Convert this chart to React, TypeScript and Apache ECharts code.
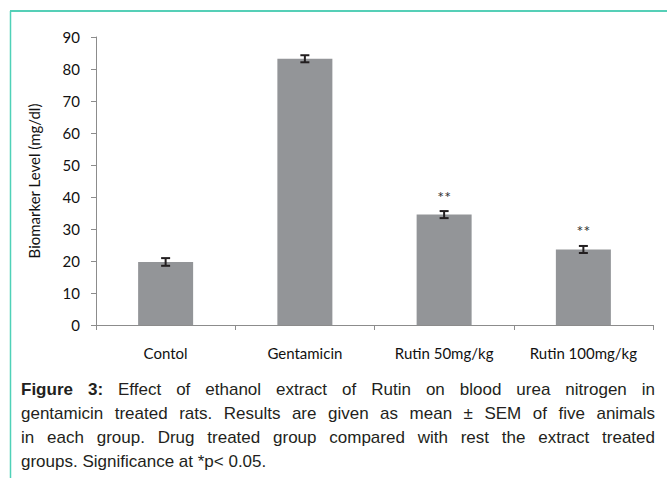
import React, { useEffect, useRef } from "react";
import * as echarts from "echarts";

const categories = ["Contol", "Gentamicin", "Rutin 50mg/kg", "Rutin 100mg/kg"];
const means = [19.7, 83.2, 34.5, 23.6];
const sems = [1.2, 1.1, 1.1, 1.1];
const significance = ["", "", "**", "**"];
const yMin = 0;
const yMax = 90;
const yStep = 10;
const yTitle = "Biomarker Level (mg/dl)";
const captionBoldWords = 2;
const captionLines = [
  "Figure 3: Effect of ethanol extract of Rutin on blood urea nitrogen in",
  "gentamicin treated rats. Results are given as mean ± SEM of five animals",
  "in each group. Drug treated group compared with rest the extract treated",
  "groups. Significance at *p< 0.05.",
];

const W = 667;
const H = 478;
const CAP_FONT = "Liberation Sans";
const CAP_SIZE = 17;
const CAP_LEFT = 21;
const CAP_RIGHT = 655;
const CAP_TOP = 389;
const CAP_LH = 24;

function buildCaption(): any[] {
  const canvas = document.createElement("canvas");
  const ctx = canvas.getContext("2d") as CanvasRenderingContext2D;
  const els: any[] = [];
  captionLines.forEach((line, li) => {
    const words = line.split(" ");
    const bolds = words.map((_, wi) => li === 0 && wi < captionBoldWords);
    const widths = words.map((w, wi) => {
      ctx.font = `${bolds[wi] ? "bold " : ""}${CAP_SIZE}px "${CAP_FONT}"`;
      return ctx.measureText(w).width;
    });
    ctx.font = `${CAP_SIZE}px "${CAP_FONT}"`;
    const spaceW = ctx.measureText(" ").width;
    const total = widths.reduce((a, b) => a + b, 0);
    const justify = li < captionLines.length - 1;
    const gap = justify && words.length > 1 ? (CAP_RIGHT - CAP_LEFT - total) / (words.length - 1) : spaceW;
    let x = CAP_LEFT;
    words.forEach((w, wi) => {
      els.push({
        type: "text",
        x,
        y: CAP_TOP + li * CAP_LH,
        silent: true,
        style: {
          text: w,
          fontFamily: CAP_FONT,
          fontSize: CAP_SIZE,
          fontWeight: bolds[wi] ? "bold" : "normal",
          fill: "#231f20",
          align: "left",
          verticalAlign: "middle",
        },
      });
      x += widths[wi] + gap;
    });
  });
  return els;
}

export default function App() {
  const ref = useRef<HTMLDivElement>(null);
  useEffect(() => {
    if (!ref.current) return;
    const chart = echarts.init(ref.current, undefined, { renderer: "svg" });
    const errData = means.map((m, i) => [i, m, sems[i]]);
    chart.setOption({
      animation: false,
      backgroundColor: "#ffffff",
      grid: { left: 96, right: 14, top: 37, bottom: 153, containLabel: false },
      xAxis: {
        type: "category",
        data: categories,
        boundaryGap: true,
        axisLine: { show: true, lineStyle: { color: "#8c8c8c", width: 1 } },
        axisTick: { show: true, alignWithLabel: false, interval: 0, length: 5, lineStyle: { color: "#8c8c8c" } },
        axisLabel: { interval: 0, margin: 20, fontFamily: "Lato", fontSize: 15, color: "#111111" },
        splitLine: { show: false },
      },
      yAxis: {
        type: "value",
        min: yMin,
        max: yMax,
        interval: yStep,
        name: yTitle,
        nameLocation: "middle",
        nameGap: 55,
        nameRotate: 90,
        nameTextStyle: { fontFamily: "Lato", fontSize: 15, color: "#111111" },
        axisLine: { show: true, lineStyle: { color: "#8c8c8c", width: 1 } },
        axisTick: { show: true, length: 5, lineStyle: { color: "#8c8c8c" } },
        axisLabel: { margin: 16, fontFamily: "Lato", fontSize: 15, color: "#111111" },
        splitLine: { show: false },
      },
      series: [
        {
          type: "bar",
          data: means,
          barWidth: "39.5%",
          itemStyle: { color: "#939598" },
          silent: true,
        },
        {
          type: "custom",
          data: errData,
          silent: true,
          z: 10,
          renderItem: (params: any, api: any) => {
            const i = api.value(0);
            const m = api.value(1);
            const e = api.value(2);
            const top = api.coord([i, m + e]);
            const bot = api.coord([i, m - e]);
            const hw = 4.5;
            const children: any[] = [
              { type: "line", shape: { x1: top[0], y1: top[1], x2: bot[0], y2: bot[1] }, style: { stroke: "#231f20", lineWidth: 2 } },
              { type: "line", shape: { x1: top[0] - hw, y1: top[1], x2: top[0] + hw, y2: top[1] }, style: { stroke: "#231f20", lineWidth: 2 } },
              { type: "line", shape: { x1: bot[0] - hw, y1: bot[1], x2: bot[0] + hw, y2: bot[1] }, style: { stroke: "#231f20", lineWidth: 2 } },
            ];
            const s = significance[params.dataIndex];
            if (s) {
              children.push({
                type: "text",
                x: top[0],
                y: top[1] - 15,
                style: { text: s, fontFamily: "Lato", fontSize: 16, fill: "#333333", align: "center", verticalAlign: "middle" },
              });
            }
            return { type: "group", children };
          },
        },
      ],
      graphic: [
        { type: "line", silent: true, shape: { x1: 10, y1: 11, x2: W, y2: 11 }, style: { stroke: "#1dbf9f", lineWidth: 1.5 } },
        { type: "line", silent: true, shape: { x1: 10.5, y1: 11, x2: 10.5, y2: H }, style: { stroke: "#4fd1b8", lineWidth: 1.5 } },
        ...buildCaption(),
      ],
    });
    return () => chart.dispose();
  }, []);
  return (
    <div style={{ position: "fixed", left: 0, top: 0, width: W, height: H, background: "#fff" }}>
      <div ref={ref} style={{ width: W, height: H }} />
    </div>
  );
}
